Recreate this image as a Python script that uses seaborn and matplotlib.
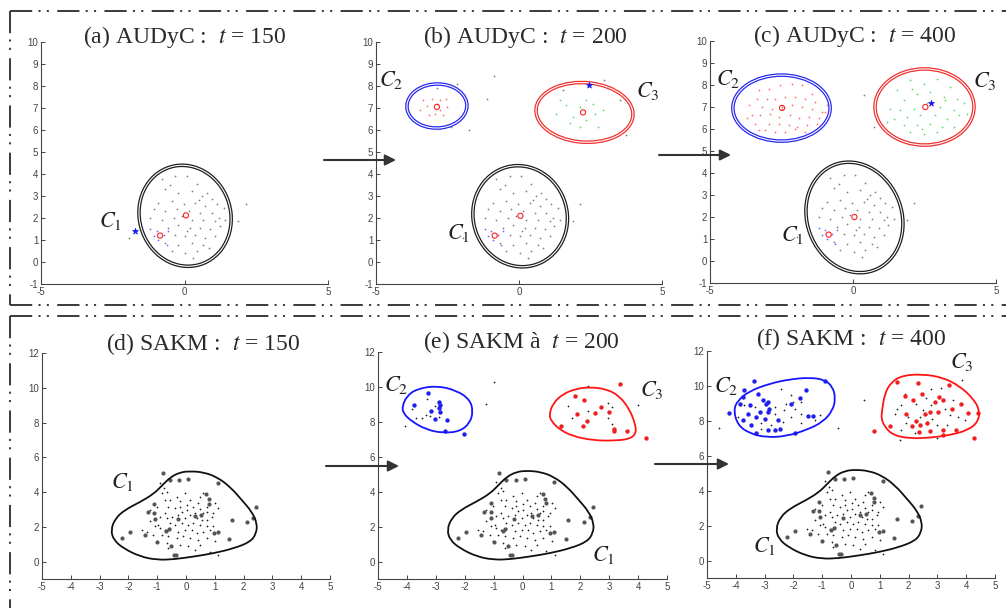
import numpy as np
import matplotlib
matplotlib.use("Agg")
import matplotlib.pyplot as plt
import seaborn as sns
from matplotlib.patches import Ellipse, PathPatch
from matplotlib.path import Path
from matplotlib.lines import Line2D

# ------------------------------------------------------------------ DATA
# ---- AUDyC (top row) : cluster C1 samples (shared by panels a, b, c)
audyc_c1_x = [-0.79, -0.33, 0.08, 0.43, 0.78, -0.67, -0.21, 0.26, 0.60, 0.95, -0.91, -0.44, -0.03, 0.37,
              0.72, 1.13, -1.08, -0.67, -0.27, 0.14, 0.55, 0.95, 1.36, -1.20, -0.79, -0.38, 0.26, 0.66,
              1.07, 1.42, -0.56, -0.21, 0.20, 0.55, 0.90, 1.24, -0.33, 0.02, 0.37, 0.72, 1.07, -0.67,
              -0.21, 0.26, 0.66, -0.44, 0.02, 0.43, 0.84, -0.10, 0.50, -0.50, 0.10, 1.20, 0.30]
audyc_c1_y = [3.76, 3.91, 3.91, 3.53, 3.15, 3.30, 3.15, 3.23, 3.00, 2.85, 2.69, 2.77, 2.62, 2.69,
              2.54, 2.62, 2.39, 2.31, 2.39, 2.31, 2.24, 2.24, 2.47, 2.01, 1.93, 2.01, 1.93, 1.93,
              1.86, 1.93, 1.55, 1.70, 1.55, 1.55, 1.48, 1.63, 1.25, 1.17, 1.25, 1.10, 1.17, 0.87,
              0.79, 0.87, 0.79, 0.49, 0.41, 0.49, 0.64, 2.10, 2.80, 3.50, 1.40, 2.00, 0.20]
audyc_c1_blue_x = [-0.97, -0.73, -0.91, -1.08, -0.62, -0.56, -1.20]
audyc_c1_blue_y = [1.40, 1.25, 1.02, 1.17, 0.79, 1.40, 1.50]
audyc_stray_x = [-1.95, 2.15, 1.88]
audyc_stray_y = [1.10, 2.62, 1.86]

# panel b : new clusters
audyc_b_c2_x = [-3.34, -3.20, -3.05, -2.76, -2.55, -2.52, -2.76, -3.16, -2.95, -3.45, -2.64, -2.87]
audyc_b_c2_y = [7.36, 7.08, 7.43, 7.36, 7.43, 7.05, 6.90, 6.68, 6.72, 6.90, 6.68, 7.18]
audyc_b_c3_x = [1.31, 1.66, 1.90, 2.13, 2.36, 2.59, 2.65, 2.77, 1.78, 2.36, 2.94, 2.13, 1.43]
audyc_b_c3_y = [6.75, 7.13, 6.60, 7.05, 7.36, 7.20, 6.75, 6.15, 6.30, 6.45, 6.90, 6.15, 7.36]
audyc_b_stray_x = [-0.87, -1.13, -1.74, -2.37, -2.17, -2.87, 2.01, 2.98, 3.52, 3.73, 1.55]
audyc_b_stray_y = [8.44, 7.39, 6.00, 6.15, 8.11, 7.89, 8.19, 8.29, 7.36, 5.77, 7.81]

# panel c : grown clusters
audyc_c_c2_x = [-3.30, -2.95, -2.54, -2.13, -1.78, -1.43, -3.36, -3.01, -2.72, -2.37, -2.02, -1.67,
                -1.32, -3.65, -3.18, -2.83, -2.48, -2.13, -1.78, -1.43, -1.08, -3.53, -3.24, -2.89,
                -2.60, -2.19, -1.90, -1.55, -1.20, -0.97, -3.41, -2.95, -2.60, -2.25, -1.96, -1.61,
                -1.26, -3.07, -2.72, -2.37, -2.02, -1.67, -3.71, -0.91, -3.30, -2.48]
audyc_c_c2_y = [7.76, 7.84, 7.99, 8.06, 7.99, 7.61, 7.38, 7.38, 7.38, 7.46, 7.46, 7.38,
                7.23, 7.08, 7.00, 6.93, 7.00, 7.08, 7.00, 6.93, 6.78, 6.63, 6.63, 6.70,
                6.55, 6.63, 6.48, 6.55, 6.48, 6.78, 6.25, 6.25, 6.25, 6.17, 6.10, 6.17,
                6.25, 5.95, 5.87, 5.87, 6.02, 5.87, 6.48, 7.08, 5.95, 6.93]
audyc_c_c3_x = [1.54, 2.00, 2.47, 2.94, 3.40, 1.77, 2.24, 2.70, 3.17, 3.64, 1.66, 2.12, 2.59, 3.05,
                3.52, 3.87, 1.42, 1.89, 2.35, 2.88, 3.28, 3.69, 1.77, 2.24, 2.70, 3.11, 3.52, 2.00,
                2.47, 2.94, 3.99, 1.31, 2.41, 3.23, 2.06, 1.19]
audyc_c_c3_y = [7.76, 8.21, 8.06, 8.29, 7.91, 7.31, 7.61, 7.69, 7.46, 7.38, 6.85, 6.93, 7.16, 7.00,
                6.85, 7.16, 6.47, 6.55, 6.63, 6.63, 6.47, 6.63, 6.17, 6.17, 6.25, 6.10, 6.10, 5.87,
                5.79, 5.87, 6.70, 6.93, 6.02, 7.31, 7.84, 6.32]
audyc_c_stray_x = [0.37, 0.72, -4.00]
audyc_c_stray_y = [7.53, 6.10, 6.25]

# cluster centres (open red circles) and newest sample (blue star)
centre_panel = ['a', 'a', 'b', 'b', 'b', 'b', 'c', 'c', 'c', 'c']
centre_x = [0.05, -0.85, 0.05, -0.85, -2.87, 2.24, 0.05, -0.85, -2.48, 2.53]
centre_y = [2.12, 1.20, 2.10, 1.20, 7.05, 6.80, 2.00, 1.20, 6.96, 7.00]
star_panel = ['a', 'b', 'c']
star_x = [-1.72, 2.45, 2.71]
star_y = [1.40, 8.04, 7.20]

# AUDyC contours (ellipse approximations)
ell_panel = ['a', 'b', 'b', 'b', 'c', 'c', 'c']
ell_cx = [0.02, 0.04, -2.87, 2.29, 0.05, -2.50, 2.50]
ell_cy = [2.10, 2.08, 7.09, 6.80, 1.98, 6.95, 7.00]
ell_w = [3.20, 3.30, 2.10, 3.40, 3.35, 3.40, 3.46]
ell_h = [4.60, 4.60, 2.00, 2.70, 5.05, 3.00, 3.46]
ell_ang = [5, 4, 10, -8, 8, 0, 0]
ell_color = ['#1e1e1e', '#1e1e1e', '#2828f0', '#f03030', '#1e1e1e', '#2828f0', '#f03030']

# ---- SAKM (bottom row) : C1 (shared by panels d, e, f)
sakm_c1_big_x = [-0.81, -0.57, -0.24, 0.07, 1.10, 2.43, 2.33, 2.12, 1.58, -1.32, -1.10, -1.10, -1.08,
                 -1.96, -2.22, -1.44, -0.99, -0.51, -0.43, -0.35, 0.96, 1.10, 1.49, 0.71, 0.79, 0.81,
                 0.52, 0.32, -0.29, -0.60, -0.68]
sakm_c1_big_y = [5.09, 4.67, 4.67, 4.74, 4.55, 3.14, 2.53, 2.29, 2.40, 2.84, 3.33, 2.82, 2.48,
                 1.71, 1.33, 1.52, 1.14, 0.91, 0.38, 0.40, 1.62, 1.71, 1.28, 3.87, 3.58, 3.33,
                 2.67, 2.61, 2.44, 1.89, 1.75]
sakm_c1_small_x = [-0.90, -0.76, -0.85, -0.67, -0.32, -0.03, -0.21, 0.14, 0.49, 0.60, 0.43, 0.72, 1.01,
                   1.12, 0.95, 0.49, 0.31, 0.02, -0.15, -0.38, -0.61, -0.73, -0.90, -0.67, -0.50, -0.27,
                   -0.03, 0.14, 0.37, 0.54, 0.72, 0.89, -0.56, -0.38, -0.15, 0.08, 0.25, 0.49, 0.72,
                   0.95, -1.25, -1.08, -0.90, -0.73, -0.56, -0.27, -0.03, 0.20, 0.37, 0.60, 0.83, -1.54,
                   -1.37, -1.13, -0.85, -0.61, -0.32, -0.09, 0.14, 0.43, 0.72, 1.01, -1.02, -0.67, -0.21,
                   0.08, 0.49, 0.31, 0.83, 1.12, -0.61, -0.96, 0.60, 0.02, -0.56, -0.21, 0.25, -0.73,
                   -1.25, -1.02, 0.72]
sakm_c1_small_y = [4.55, 4.22, 3.94, 4.03, 3.74, 3.94, 3.46, 3.55, 3.74, 3.94, 3.36, 3.17, 3.36,
                   3.07, 2.79, 3.02, 2.79, 2.98, 2.88, 3.07, 3.17, 2.79, 2.59, 2.50, 2.59, 2.69,
                   2.50, 2.69, 2.50, 2.40, 2.40, 2.59, 2.21, 2.12, 2.21, 2.12, 2.21, 2.12, 2.02,
                   2.02, 2.31, 2.02, 1.92, 1.83, 1.92, 1.73, 1.83, 1.83, 1.64, 1.73, 1.83, 1.83,
                   1.73, 1.54, 1.54, 1.45, 1.35, 1.45, 1.35, 1.25, 1.35, 1.16, 1.16, 1.06, 0.97,
                   0.87, 0.97, 0.68, 0.58, 0.39, 0.77, 2.12, 2.79, 3.27, 3.55, 3.17, 3.17, 3.55,
                   2.98, 3.17, 2.88]
sakm_c1_cx = [-2.61, -2.46, -2.11, -1.59, -1.12, -0.83, -0.54, -0.20, 0.15, 0.61, 1.08, 1.54, 1.95,
              2.29, 2.47, 2.44, 2.24, 1.66, 0.96, 0.27, -0.43, -1.01, -1.59, -2.17, -2.51]
sakm_c1_cy = [1.81, 2.48, 2.99, 3.43, 3.90, 4.38, 4.86, 5.14, 5.20, 5.14, 4.86, 4.29, 3.52,
              2.86, 2.19, 1.62, 1.14, 0.76, 0.48, 0.29, 0.13, 0.10, 0.29, 0.76, 1.24]

# panel e
sakm_e_c2_big_x = [-3.76, -3.26, -3.17, -2.88, -2.86, -2.86, -3.02, -2.62, -2.68, -2.02, -2.90]
sakm_e_c2_big_y = [8.98, 9.63, 8.60, 9.12, 8.96, 8.56, 8.18, 8.08, 7.49, 7.32, 8.79]
sakm_e_c2_small_x = [-3.82, -3.67, -3.49, -3.34, -3.32, -3.20, -2.90, -3.02]
sakm_e_c2_small_y = [8.75, 8.20, 8.22, 8.41, 9.31, 8.35, 8.26, 8.92]
sakm_e_c3_big_x = [1.83, 2.12, 1.90, 2.24, 2.08, 1.34, 2.50, 2.71, 3.00, 3.16, 3.16, 3.60, 3.37, 4.26]
sakm_e_c3_big_y = [9.48, 9.27, 8.45, 8.06, 7.74, 7.74, 8.48, 8.87, 8.54, 7.59, 7.45, 7.49, 10.17, 7.07]
sakm_e_c3_small_x = [1.56, 1.70, 2.26, 2.97, 3.08, 2.97, 3.11]
sakm_e_c3_small_y = [8.89, 8.22, 8.60, 9.08, 8.85, 8.22, 7.87]
sakm_e_stray_x = [-4.06, -0.99, -1.28, 2.25, 3.98]
sakm_e_stray_y = [7.78, 10.30, 9.04, 10.03, 8.98]
sakm_e_c2_cx = [-4.16, -4.01, -3.67, -2.98, -2.28, -1.82, -1.71, -1.82, -2.17, -2.75, -3.32, -3.84, -4.13]
sakm_e_c2_cy = [8.89, 9.46, 9.88, 10.07, 9.80, 9.27, 8.60, 7.93, 7.45, 7.36, 7.55, 8.03, 8.50]
sakm_e_c3_cx = [0.92, 1.06, 1.41, 1.87, 2.33, 2.91, 3.37, 3.71, 3.89, 3.94, 3.71, 3.14, 2.45, 1.75, 1.29, 1.00]
sakm_e_c3_cy = [8.41, 9.08, 9.61, 9.90, 9.99, 9.88, 9.46, 8.69, 7.93, 7.36, 7.01, 6.92, 6.94, 7.17, 7.55, 8.03]

# panel f
sakm_f_c2_big_x = [-3.37, -4.22, -3.87, -3.75, -3.23, -2.89, -2.83, -2.89, -3.17, -3.29, -3.00, -2.54,
                   -2.48, -2.65, -3.46, -3.75, -3.29, -2.89, -1.96, -1.49, -1.32, -1.55, -1.78, -0.92,
                   -3.70, -3.52, -2.94, -3.58, -3.06, -2.07]
sakm_f_c2_big_y = [10.27, 8.46, 8.99, 9.37, 9.56, 9.09, 8.65, 8.51, 8.51, 8.23, 8.08, 8.04,
                   7.56, 7.47, 7.75, 8.04, 7.28, 7.47, 7.28, 8.27, 8.27, 9.75, 9.28, 10.27,
                   9.75, 8.90, 8.99, 8.42, 9.18, 8.99]
sakm_f_c2_small_x = [-2.42, -2.07, -2.02, -2.25, -2.31, -1.96, -1.73, -2.07, -2.36, -1.73, -1.26, -1.09,
                     -2.65, -3.35, -3.70, -3.93, -2.65, -2.77, -3.12, -1.73, -3.12]
sakm_f_c2_small_y = [9.85, 9.47, 9.09, 8.99, 8.61, 8.70, 8.42, 8.23, 7.94, 7.85, 8.04, 8.32,
                     8.42, 8.80, 8.90, 8.23, 8.80, 7.75, 7.56, 9.09, 7.85]
sakm_f_c3_big_x = [1.58, 2.31, 2.48, 2.16, 1.87, 3.06, 3.18, 3.40, 3.83, 4.07, 4.42, 1.92, 2.27, 2.73,
                   3.02, 2.64, 2.39, 2.13, 2.76, 3.20, 3.64, 1.37, 0.79, 3.18, 2.36, 4.28, 3.52, 2.91, 2.56]
sakm_f_c3_big_y = [10.23, 10.19, 9.56, 9.22, 9.41, 9.37, 9.22, 10.04, 8.99, 8.46, 8.46, 8.42, 8.00, 8.51,
                   8.51, 7.85, 7.75, 7.70, 7.41, 7.47, 7.47, 7.70, 7.41, 7.18, 7.37, 7.03, 8.69, 9.09, 8.42]
sakm_f_c3_small_x = [1.87, 2.79, 3.14, 1.75, 2.27, 2.62, 2.79, 1.58, 1.52, 1.99, 2.40, 2.81, 3.26,
                     3.43, 3.72, 3.96, 2.97, 3.32, 1.92, 1.75, 2.21, 2.97, 3.87, 1.69, 2.50, 3.55]
sakm_f_c3_small_y = [9.56, 9.85, 9.90, 8.90, 8.99, 9.28, 8.90, 8.65, 8.42, 8.23, 8.23, 8.13, 8.70,
                     8.32, 8.23, 8.04, 7.75, 7.75, 7.85, 7.47, 7.28, 7.00, 10.36, 6.90, 8.61, 9.18]
sakm_f_stray_x = [0.45, -0.45, -4.57]
sakm_f_stray_y = [9.22, 7.60, 7.60]
sakm_f_c2_cx = [-4.08, -3.93, -3.52, -2.83, -2.13, -1.44, -0.92, -0.63, -0.54, -0.63, -0.97, -1.55,
                -2.25, -2.94, -3.52, -3.93]
sakm_f_c2_cy = [8.61, 9.18, 9.71, 10.13, 10.38, 10.48, 10.36, 9.94, 9.28, 8.61, 7.94, 7.47,
                7.12, 7.05, 7.28, 7.75]
sakm_f_c3_cx = [1.08, 1.17, 1.40, 1.81, 2.50, 3.20, 3.78, 4.24, 4.47, 4.41, 4.07, 3.43, 2.73, 2.04,
                1.46, 1.17, 1.05]
sakm_f_c3_cy = [8.61, 9.56, 10.23, 10.61, 10.67, 10.48, 9.98, 9.28, 8.61, 7.94, 7.47, 7.18, 7.03, 6.99,
                7.18, 7.66, 8.13]

# titles and cluster labels
titles = ['(a) AUDyC :  $t$ = 150', '(b) AUDyC :  $t$ = 200', '(c) AUDyC :  $t$ = 400',
          '(d) SAKM :  $t$ = 150', '(e) SAKM à  $t$ = 200', '(f) SAKM :  $t$ = 400']
label_panel = ['a', 'b', 'b', 'b', 'c', 'c', 'c', 'd', 'e', 'e', 'e', 'f', 'f', 'f']
label_text = ['$C_1$', '$C_2$', '$C_3$', '$C_1$', '$C_2$', '$C_3$', '$C_1$',
              '$C_1$', '$C_2$', '$C_3$', '$C_1$', '$C_2$', '$C_3$', '$C_1$']
label_x = [-2.59, -4.48, 4.51, -2.12, -4.38, 4.60, -2.13, -2.22, -4.36, 4.49, 2.79, -4.33, 3.84, -3.00]
label_y = [1.86, 8.26, 7.78, 1.31, 8.26, 8.17, 1.18, 4.57, 10.13, 9.80, 0.38, 9.98, 11.37, 0.84]

top_xticks = [-5, 0, 5]
top_yticks = list(range(-1, 11))
bot_xticks = list(range(-5, 6))
bot_yticks = list(range(0, 13, 2))

# ------------------------------------------------------------------ STYLE
sns.set_theme(style="white")
plt.rcParams['font.family'] = ['Liberation Serif', 'DejaVu Serif']
plt.rcParams['mathtext.fontset'] = 'stix'
plt.rcParams['lines.scale_dashes'] = False
plt.rcParams['axes.unicode_minus'] = False

W, H = 1006, 608
fig = plt.figure(figsize=(W / 100, H / 100), dpi=100)
fig.patch.set_facecolor('white')


def px_axes(l, r, t, b):
    return fig.add_axes([l / W, 1 - b / H, (r - l) / W, (b - t) / H])


axes = {
    'a': px_axes(41, 328, 42, 284),
    'b': px_axes(376, 662, 42, 284),
    'c': px_axes(710, 996, 41, 283),
    'd': px_axes(42, 330, 353, 579),
    'e': px_axes(378, 667, 352, 579),
    'f': px_axes(707, 995, 351, 578),
}


def style(ax, ylim, xt, yt):
    ax.set_xlim(-5, 5)
    ax.set_ylim(*ylim)
    ax.set_xticks(xt)
    ax.set_yticks(yt)
    ax.set_xlabel('')
    ax.set_ylabel('')
    ax.set_facecolor('white')
    for s in ['top', 'right']:
        ax.spines[s].set_visible(False)
    for s in ['left', 'bottom']:
        ax.spines[s].set_color('#444444')
        ax.spines[s].set_linewidth(0.8)
    ax.tick_params(direction='in', length=3, width=0.7, color='#444444',
                   labelsize=7, labelcolor='#444444', pad=2,
                   left=True, bottom=True)
    for lab in ax.get_xticklabels() + ax.get_yticklabels():
        lab.set_fontfamily('Liberation Sans')


def dots(ax, xs, ys, color, s, marker='o', lw=0, z=3):
    sns.scatterplot(x=xs, y=ys, ax=ax, color=color, s=s, marker=marker,
                    linewidth=lw, edgecolor=color if marker == 'o' else None,
                    legend=False, zorder=z)


def smooth_closed(ax, xs, ys, color, lw=1.3):
    pts = np.column_stack([xs, ys])
    mids = (pts + np.roll(pts, -1, axis=0)) / 2
    verts = [mids[-1]]
    codes = [Path.MOVETO]
    for i in range(len(pts)):
        verts += [pts[i], mids[i]]
        codes += [Path.CURVE3, Path.CURVE3]
    ax.add_patch(PathPatch(Path(verts, codes), fill=False, ec=color, lw=lw, zorder=4))


# ------------------------------------------------------------------ TOP ROW
for p in ['a', 'b', 'c']:
    ax = axes[p]
    dots(ax, audyc_c1_x, audyc_c1_y, '#808080', 1.6)
    dots(ax, audyc_stray_x, audyc_stray_y, '#808080', 1.6)
    dots(ax, audyc_c1_blue_x, audyc_c1_blue_y, '#7070ff', 1.6)
dots(axes['b'], audyc_b_c2_x, audyc_b_c2_y, '#ff7070', 1.6)
dots(axes['b'], audyc_b_c3_x, audyc_b_c3_y, '#60d860', 1.6)
dots(axes['b'], audyc_b_stray_x, audyc_b_stray_y, '#808080', 1.6)
dots(axes['c'], audyc_c_c2_x, audyc_c_c2_y, '#ff7070', 1.6)
dots(axes['c'], audyc_c_c3_x, audyc_c_c3_y, '#60d860', 1.6)
dots(axes['c'], audyc_c_stray_x, audyc_c_stray_y, '#808080', 1.6)

for p, cx, cy, w, h, a, col in zip(ell_panel, ell_cx, ell_cy, ell_w, ell_h, ell_ang, ell_color):
    ax = axes[p]
    ax.add_patch(Ellipse((cx, cy), w, h, angle=a, fill=False, ec=col, lw=2.6, zorder=4))
    ax.add_patch(Ellipse((cx, cy), w, h, angle=a, fill=False, ec='white', lw=0.8, zorder=5))

for p in ['a', 'b', 'c']:
    ax = axes[p]
    cxs = [x for q, x in zip(centre_panel, centre_x) if q == p]
    cys = [y for q, y in zip(centre_panel, centre_y) if q == p]
    sns.scatterplot(x=cxs, y=cys, ax=ax, s=14, marker='o', facecolor='none',
                    edgecolor='#ff2020', linewidth=0.8, legend=False, zorder=6)
    sx = [x for q, x in zip(star_panel, star_x) if q == p]
    sy = [y for q, y in zip(star_panel, star_y) if q == p]
    sns.scatterplot(x=sx, y=sy, ax=ax, s=22, marker='*', color='#1010ee',
                    linewidth=0.4, edgecolor='#1010ee', legend=False, zorder=6)
    style(ax, (-1, 10), top_xticks, top_yticks)

# ------------------------------------------------------------------ BOTTOM ROW
PLUS_S, PLUS_LW = 3.5, 0.5
for p in ['d', 'e', 'f']:
    ax = axes[p]
    dots(ax, sakm_c1_small_x, sakm_c1_small_y, '#222222', PLUS_S, marker='+', lw=PLUS_LW)
    dots(ax, sakm_c1_big_x, sakm_c1_big_y, '#555555', 9)
    smooth_closed(ax, sakm_c1_cx, sakm_c1_cy, '#111111')

ax = axes['e']
dots(ax, sakm_e_c2_small_x, sakm_e_c2_small_y, '#222222', PLUS_S, marker='+', lw=PLUS_LW)
dots(ax, sakm_e_c3_small_x, sakm_e_c3_small_y, '#222222', PLUS_S, marker='+', lw=PLUS_LW)
dots(ax, sakm_e_stray_x, sakm_e_stray_y, '#222222', PLUS_S, marker='+', lw=PLUS_LW)
dots(ax, sakm_e_c2_big_x, sakm_e_c2_big_y, '#2020ee', 10)
dots(ax, sakm_e_c3_big_x, sakm_e_c3_big_y, '#ee2020', 10)
smooth_closed(ax, sakm_e_c2_cx, sakm_e_c2_cy, '#1515ff')
smooth_closed(ax, sakm_e_c3_cx, sakm_e_c3_cy, '#ff1515')

ax = axes['f']
dots(ax, sakm_f_c2_small_x, sakm_f_c2_small_y, '#222222', PLUS_S, marker='+', lw=PLUS_LW)
dots(ax, sakm_f_c3_small_x, sakm_f_c3_small_y, '#222222', PLUS_S, marker='+', lw=PLUS_LW)
dots(ax, sakm_f_stray_x, sakm_f_stray_y, '#222222', PLUS_S, marker='+', lw=PLUS_LW)
dots(ax, sakm_f_c2_big_x, sakm_f_c2_big_y, '#2020ee', 10)
dots(ax, sakm_f_c3_big_x, sakm_f_c3_big_y, '#ee2020', 10)
smooth_closed(ax, sakm_f_c2_cx, sakm_f_c2_cy, '#1515ff')
smooth_closed(ax, sakm_f_c3_cx, sakm_f_c3_cy, '#ff1515')

for p in ['d', 'e', 'f']:
    style(axes[p], (-1, 12), bot_xticks, bot_yticks)

# cluster labels
for p, t, x, y in zip(label_panel, label_text, label_x, label_y):
    axes[p].text(x, y, t, fontsize=16, color='#222222', ha='center', va='center', zorder=7)

# ------------------------------------------------------------------ OVERLAY (frames, arrows, titles)
ov = fig.add_axes([0, 0, 1, 1], zorder=10)
ov.set_xlim(0, W)
ov.set_ylim(H, 0)
ov.axis('off')
ov.patch.set_alpha(0)

dash = (0, (16, 4.5, 1.5, 4.5, 1.5, 6))
frame_col = '#3a3a3a'
for (x0, x1, y0, y1) in [(10, W, 11, 11), (10, 10, 11, 305), (10, W, 305, 305),
                         (10, W, 316, 316), (10, 10, 316, H)]:
    ov.add_line(Line2D([x0, x1], [y0, y1], color=frame_col, lw=1.4, linestyle=dash))

for (x0, x1, y) in [(324, 396, 160), (659, 731, 155), (326, 399, 466), (655, 729, 464)]:
    ov.annotate('', xy=(x1, y), xytext=(x0, y),
                arrowprops=dict(arrowstyle='-|>', color='#333333', lw=1.5,
                                mutation_scale=16, shrinkA=0, shrinkB=0))

title_pos = [(185, 37), (525, 37), (855, 36), (203, 344), (521, 342), (851, 339)]
for t, (x, y) in zip(titles, title_pos):
    ov.text(x, y, t, fontsize=17, color='#2a2a2a', ha='center', va='center')

fig.savefig('out.png', dpi=100, facecolor='white')
